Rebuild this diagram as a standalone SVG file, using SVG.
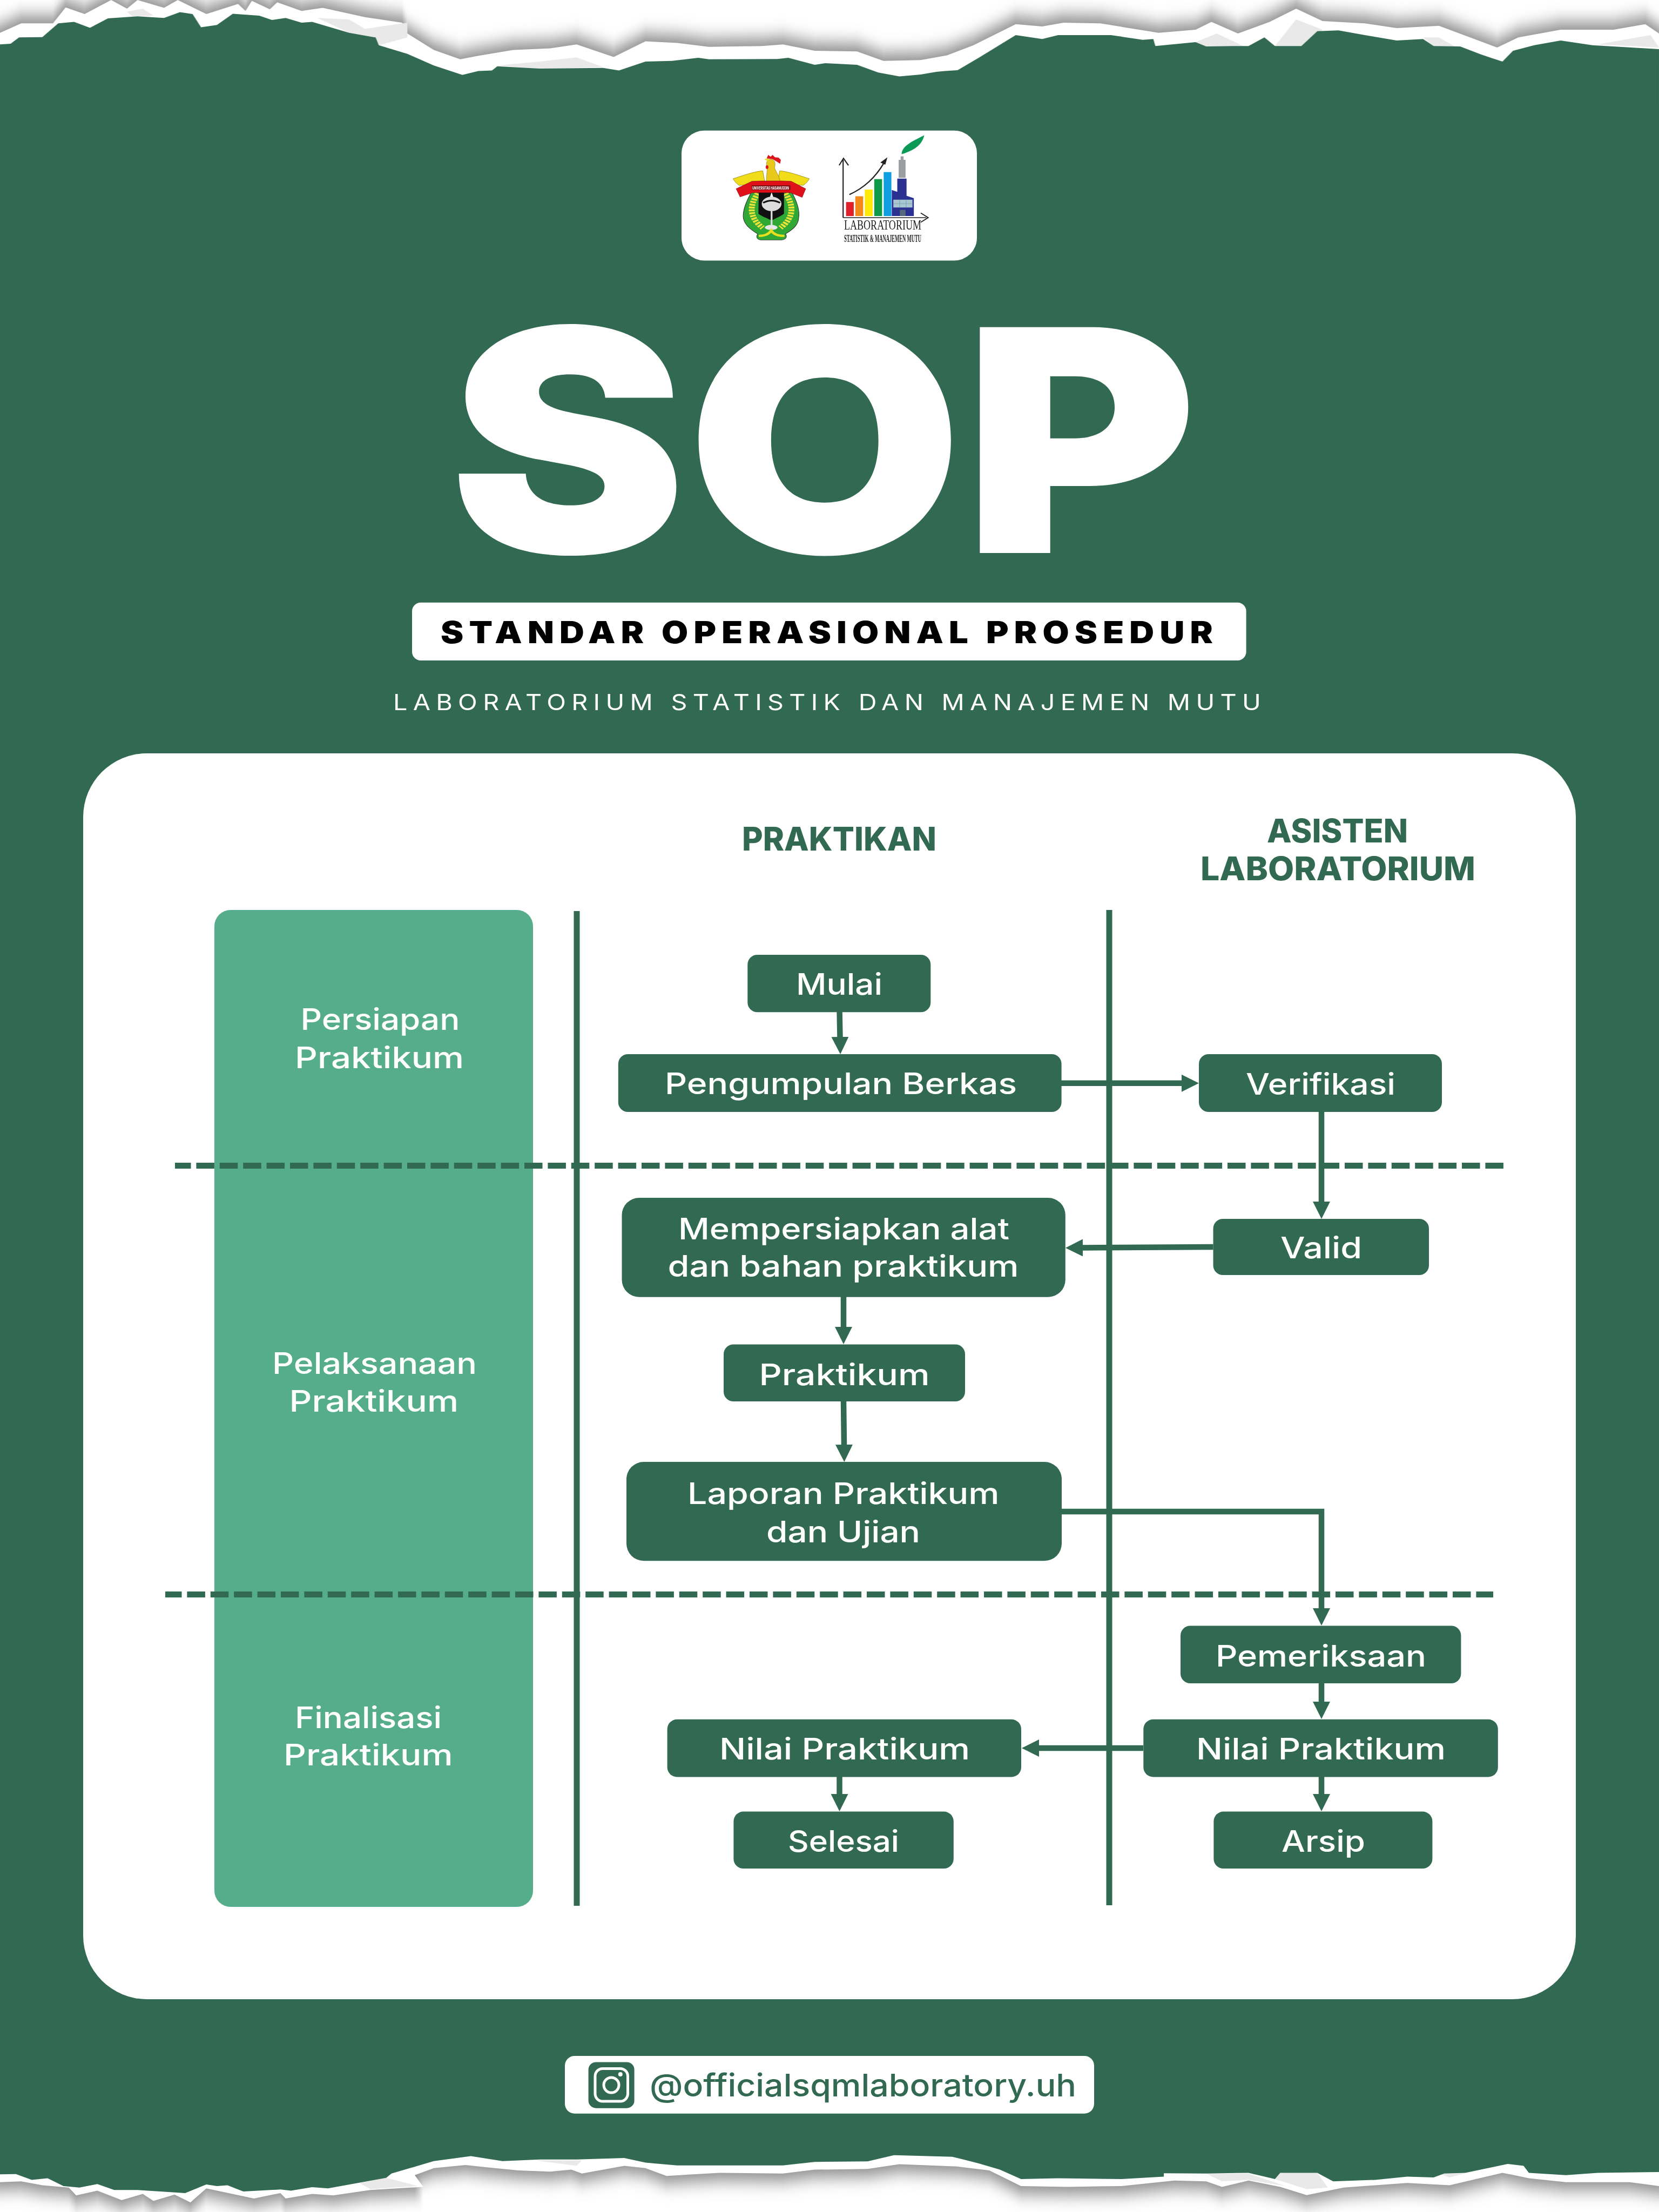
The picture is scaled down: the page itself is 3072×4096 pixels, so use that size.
<svg xmlns="http://www.w3.org/2000/svg" width="3072" height="4096" viewBox="0 0 3072 4096">
<style>
text{font-family:Inter,"Liberation Sans",sans-serif}
.n{fill:#326952}
.t{fill:#fff;font-size:55px;font-weight:500}
.h{fill:#326952;font-size:60px;font-weight:800}
.c{fill:none;stroke:#326952;stroke-width:10.5}
.a{marker-end:url(#ah)}
.lane{stroke:#326952;stroke-width:11;fill:none}
.dash{stroke-dasharray:33.5 9.9}
</style>
<defs>
<marker id="ah" viewBox="0 0 32 32" refX="1" refY="16" markerWidth="32" markerHeight="32" markerUnits="userSpaceOnUse" orient="auto"><path d="M0 0L32 16L0 32Z" fill="#326952"/></marker>
<filter id="vblur" filterUnits="userSpaceOnUse" x="0" y="-60" width="3072" height="4216"><feGaussianBlur stdDeviation="0 16"/></filter>
<polygon id="topW" points="0,210 20,150 50,150 62,48 80,90 105,0 120,55 130,0 155,50 168,0 195,90 225,25 232,70 238,5 255,60 262,15 285,70 305,50 345,110 380,145 385,215 410,320 435,380 450,360 485,320 520,310 545,285 580,365 610,265 640,275 670,300 720,295 740,285 770,325 810,330 835,390 870,385 895,355 920,290 960,155 985,170 1005,145 1040,150 1095,210 1130,190 1145,140 1170,215 1200,140 1225,55 1250,135 1290,150 1320,180 1360,165 1415,305 1435,240 1475,190 1525,190 1555,155 1568,215 1568,700 0,700"/>
<polygon id="botW" points="0,485 20,480 40,505 65,520 72,570 92,540 115,600 135,560 145,605 165,565 180,615 195,525 240,590 265,555 270,590 295,560 315,570 350,535 400,515 392,440 410,395 440,375 460,390 490,410 520,418 540,405 550,430 590,380 610,395 630,445 680,425 740,430 770,405 820,400 850,370 905,385 935,410 965,510 1010,515 1060,510 1110,475 1140,480 1155,515 1180,475 1210,515 1235,568 1270,520 1330,490 1370,505 1420,425 1445,460 1480,485 1540,485 1568,510 1568,0 0,0"/>
</defs>
<rect width="3072" height="4096" fill="#fff"/>
<g id="torn-edges">
<g filter="url(#vblur)" fill="#8a8a8a"><use href="#topW" transform="translate(0,-14) scale(1.9592,0.2889)"/><use href="#botW" transform="translate(0,3914.6) scale(1.9592,0.2889)"/></g>
<g transform="scale(1.9592,0.2889)">
<use href="#topW" fill="#fff"/>
<g fill="#e9e9e9"><polygon points="300,115 330,125 345,185 385,145 385,240 358,290 355,240 330,210"/><polygon points="470,420 510,395 545,368 570,430 510,440"/><polygon points="1130,270 1150,215 1175,295 1140,298"/><polygon points="1205,295 1225,125 1250,190 1232,295"/><polygon points="1345,240 1360,240 1375,298 1355,295"/><polygon points="1510,285 1560,225 1568,305"/><polygon points="120,75 135,55 145,100 125,105"/></g>
<polygon fill="#326952" points="0,285 10,280 18,240 40,238 55,150 70,140 85,178 102,118 130,105 155,115 170,78 182,90 190,175 205,160 220,88 245,100 257,128 270,115 285,145 295,140 330,210 355,240 358,290 385,345 410,420 437,480 452,455 465,452 470,425 510,440 570,435 585,452 610,395 635,390 660,370 670,380 735,378 745,370 770,415 780,405 810,415 830,465 850,490 870,478 885,460 893,455 905,450 925,370 960,225 985,250 1000,225 1050,225 1080,255 1090,250 1092,295 1130,270 1140,298 1165,295 1180,295 1195,240 1205,295 1230,295 1245,200 1265,195 1290,225 1320,260 1345,250 1355,295 1380,298 1400,350 1420,395 1430,325 1450,290 1475,260 1505,290 1568,315 1568,700 0,700"/>
</g>
<g transform="translate(0,3900.6) scale(1.9592,0.2889)">
<use href="#botW" fill="#fff"/>
<g fill="#e9e9e9"><polygon points="505,345 550,345 545,380"/><polygon points="1205,465 1210,425 1245,425 1255,520 1235,530"/><polygon points="1140,430 1180,430 1215,510 1180,470 1155,480"/><polygon points="340,490 365,457 395,510 350,530"/><polygon points="1360,430 1385,428 1370,455"/></g>
<polygon fill="#326952" points="0,435 15,433 30,470 45,460 60,510 75,520 92,497 108,535 130,535 175,555 195,500 205,510 215,505 230,545 265,532 275,540 295,517 310,525 365,457 370,430 410,350 445,318 475,350 510,340 545,340 590,330 610,360 640,378 740,378 770,355 820,352 845,312 900,322 925,365 945,405 965,465 1000,460 1060,465 1100,450 1100,428 1140,430 1180,425 1205,465 1210,425 1245,425 1260,480 1300,470 1330,450 1355,455 1365,430 1385,425 1425,368 1440,380 1445,425 1480,440 1510,425 1568,420 1568,0 0,0"/>
</g>
<rect x="0" y="195" width="3072" height="3715" fill="#326952"/>
</g>
<g id="logos">
<rect x="1262" y="241.8" width="547" height="240.7" rx="42" fill="#fff"/>
<g transform="translate(1248.2,234) scale(.3648,.2889)">
<path d="M400,405C370,470 345,540 352,590C360,640 400,670 425,690C415,705 420,725 440,728L545,728C570,725 575,705 565,690C590,670 630,640 632,590C640,540 620,470 590,405Z" fill="#2fa836" stroke="#333" stroke-width="3"/>
<path d="M425,430C385,500 375,580 450,650M565,430C605,500 615,580 540,650" fill="none" stroke="#e9e33a" stroke-width="30" stroke-dasharray="12 6"/>
<path d="M430,408L558,408L558,560C530,585 510,590 495,605C480,590 455,585 428,560Z" fill="#111"/>
<polygon points="495,420 506,465 484,465" fill="#fff"/>
<ellipse cx="495" cy="497" rx="50" ry="46" fill="#ddd"/>
<path d="M452,490Q495,462 538,490" fill="none" stroke="#111" stroke-width="10"/>
<path d="M495,535V640" stroke="#ddd" stroke-width="9"/>
<ellipse cx="493" cy="648" rx="32" ry="16" fill="#e8e8e8"/>
<path d="M430,702C460,702 480,692 493,668C505,692 530,702 560,702" fill="none" stroke="#eadf1e" stroke-width="14"/>
<path d="M300,335C340,320 400,290 450,285L462,365L330,378C315,365 305,350 300,335Z" fill="#f0dc18" stroke="#7a6a00" stroke-width="2"/>
<path d="M686,335C646,320 586,290 536,285L524,365L656,378C671,365 681,350 686,335Z" fill="#f0dc18" stroke="#7a6a00" stroke-width="2"/>
<path d="M470,370C465,330 475,290 472,255C465,235 470,215 490,210C515,215 515,240 510,265C520,300 540,330 540,370Z" fill="#e8c81a" stroke="#8a7400" stroke-width="2"/>
<polygon points="458,210 480,203 478,226" fill="#eadf1e"/>
<path d="M470,205L478,183L490,195L500,183L512,198L530,200L542,215L538,240L520,225L500,210Z" fill="#d9161c"/>
<ellipse cx="472" cy="261" rx="7" ry="12" fill="#d9161c"/>
<path d="M315,400L395,352L440,350L550,350L595,352L668,400L650,455L590,425L400,425L335,452Z" fill="#e0101a" stroke="#7a0c12" stroke-width="2"/>
<rect x="395" y="378" width="195" height="30" fill="#7a0c12"/>
<path d="M858,585V215M838,250L860,205L885,250M858,585H1280M1252,555L1290,585L1252,615" fill="none" stroke="#222" stroke-width="6"/>
<rect x="873" y="485" width="39" height="90" fill="#e0202a"/>
<rect x="920" y="448" width="40" height="127" fill="#f28a1a"/>
<rect x="968" y="405" width="40" height="170" fill="#ffe80a"/>
<rect x="1016" y="338" width="40" height="237" fill="#0f9a48"/>
<rect x="1064" y="293" width="39" height="282" fill="#0f9fe0"/>
<path d="M890,437Q1000,375 1065,235" fill="none" stroke="#222" stroke-width="7"/>
<polygon points="1083,198 1047,232 1072,246" fill="#222"/>
<polygon points="1105,575 1105,408 1133,420 1133,335 1180,335 1180,445 1217,460 1217,575" fill="#2a3191"/>
<rect x="1113" y="470" width="97" height="50" fill="#a9c7d0"/>
<path d="M1113,495H1210M1145,470V520M1178,470V520" stroke="#7fa6b5" stroke-width="3"/>
<rect x="1146" y="535" width="29" height="40" fill="#55697f"/>
<polygon points="1140,330 1140,215 1150,215 1150,192 1165,192 1165,215 1175,215 1175,330" fill="#9a9ea3"/>
<path d="M1155,178C1155,130 1200,100 1270,57C1260,110 1230,150 1155,178Z" fill="#0a9a55"/>
</g>
<text x="1393" y="351" font-size="8" font-weight="700" fill="#fff" textLength="68" lengthAdjust="spacingAndGlyphs">UNIVERSITAS HASANUDDIN</text>
<text x="1563" y="425" font-size="26" textLength="143" lengthAdjust="spacingAndGlyphs" fill="#222" style="font-family:'Liberation Serif',serif">LABORATORIUM</text>
<text x="1563" y="448" font-size="19" font-weight="700" textLength="143" lengthAdjust="spacingAndGlyphs" fill="#222" style="font-family:'Liberation Serif',serif">STATISTIK &amp; MANAJEMEN MUTU</text>
</g>
<g id="title">
<text x="831" y="1024" font-size="575" font-weight="900" fill="#fff" textLength="1386" lengthAdjust="spacingAndGlyphs">SOP</text>
<rect x="763" y="1115.8" width="1544.6" height="107.2" rx="16" fill="#fff"/>
<text x="816" y="1191" font-size="56" font-weight="900" letter-spacing="9" fill="#000" textLength="1440" lengthAdjust="spacingAndGlyphs">STANDAR OPERASIONAL PROSEDUR</text>
<text x="728" y="1314.6" font-size="41" font-weight="400" letter-spacing="9" fill="#fff" textLength="1617" lengthAdjust="spacingAndGlyphs">LABORATORIUM STATISTIK DAN MANAJEMEN MUTU</text>
</g>
<rect id="panel" x="154" y="1395" width="2764" height="2307" rx="118" fill="#fff"/>
<g id="phase-band">
<rect x="397" y="1685" width="590" height="1846" rx="30" fill="#56ad8b"/>
<g class="phase">
<text class="t" x="556.4" y="1907" textLength="295" lengthAdjust="spacingAndGlyphs">Persiapan</text>
<text class="t" x="546" y="1977.5" textLength="313" lengthAdjust="spacingAndGlyphs">Praktikum</text>
<text class="t" x="504" y="2544" textLength="379" lengthAdjust="spacingAndGlyphs">Pelaksanaan</text>
<text class="t" x="535.5" y="2614" textLength="313.5" lengthAdjust="spacingAndGlyphs">Praktikum</text>
<text class="t" x="546" y="3200" textLength="272" lengthAdjust="spacingAndGlyphs">Finalisasi</text>
<text class="t" x="525" y="3269" textLength="313.5" lengthAdjust="spacingAndGlyphs">Praktikum</text>
</g>
</g>
<g id="headers">
<text class="h" x="1374" y="1575" textLength="360" lengthAdjust="spacingAndGlyphs">PRAKTIKAN</text>
<text class="h" x="2346" y="1559.5" textLength="261" lengthAdjust="spacingAndGlyphs">ASISTEN</text>
<text class="h" x="2223" y="1630" textLength="509" lengthAdjust="spacingAndGlyphs">LABORATORIUM</text>
</g>
<g id="lanes">
<path class="lane" d="M1068 1687V3529M2054 1685V3528"/>
<path class="lane dash" style="stroke-dashoffset:4" d="M324 2158.5H2785"/>
<path class="lane dash" style="stroke-dashoffset:3" d="M306 2952.4H2765"/>
</g>
<g id="connectors">
<path class="c a" d="M1554.6 1874L1555.5 1921"/>
<path class="c a" d="M1965 2005.8H2189"/>
<path class="c a" d="M2447 2059V2226"/>
<path class="c a" d="M2246.5 2309L2004 2310.5"/>
<path class="c a" d="M1562 2401V2458"/>
<path class="c a" d="M1562 2595L1563 2676"/>
<path class="c a" d="M1965 2799H2447V2979"/>
<path class="c a" d="M2447 3117V3152"/>
<path class="c a" d="M2117 3237H1923"/>
<path class="c a" d="M2447 3290V3323"/>
<path class="c a" d="M1554.5 3290V3323"/>
</g>
<g id="node-mulai"><rect class="n" x="1384.3" y="1767.9" width="339" height="106.4" rx="18"/><text class="t" x="1474" y="1842" textLength="160" lengthAdjust="spacingAndGlyphs">Mulai</text></g>
<g id="node-pengumpulan"><rect class="n" x="1144.8" y="1952" width="820.8" height="107" rx="18"/><text class="t" x="1231" y="2026" textLength="652" lengthAdjust="spacingAndGlyphs">Pengumpulan Berkas</text></g>
<g id="node-verifikasi"><rect class="n" x="2220" y="1952" width="450" height="107" rx="18"/><text class="t" x="2307" y="2027" textLength="277" lengthAdjust="spacingAndGlyphs">Verifikasi</text></g>
<g id="node-valid"><rect class="n" x="2246.5" y="2257" width="399.5" height="104" rx="18"/><text class="t" x="2371" y="2330" textLength="151" lengthAdjust="spacingAndGlyphs">Valid</text></g>
<g id="node-mempersiapkan"><rect class="n" x="1151.5" y="2218" width="821.3" height="183.7" rx="32"/><text class="t" x="1256" y="2294.8" textLength="613" lengthAdjust="spacingAndGlyphs">Mempersiapkan alat</text><text class="t" x="1236.5" y="2364.4" textLength="650" lengthAdjust="spacingAndGlyphs">dan bahan praktikum</text></g>
<g id="node-praktikum"><rect class="n" x="1340" y="2489.5" width="447" height="105.5" rx="18"/><text class="t" x="1405.5" y="2565" textLength="316" lengthAdjust="spacingAndGlyphs">Praktikum</text></g>
<g id="node-laporan"><rect class="n" x="1160" y="2707" width="806" height="183.3" rx="32"/><text class="t" x="1273" y="2785" textLength="577.5" lengthAdjust="spacingAndGlyphs">Laporan Praktikum</text><text class="t" x="1419" y="2855.5" textLength="285" lengthAdjust="spacingAndGlyphs">dan Ujian</text></g>
<g id="node-pemeriksaan"><rect class="n" x="2186" y="3010.5" width="519.4" height="106.5" rx="18"/><text class="t" x="2251" y="3085.8" textLength="390" lengthAdjust="spacingAndGlyphs">Pemeriksaan</text></g>
<g id="node-nilai-asisten"><rect class="n" x="2117.3" y="3183.8" width="656.5" height="106.6" rx="18"/><text class="t" x="2215" y="3258" textLength="462" lengthAdjust="spacingAndGlyphs">Nilai Praktikum</text></g>
<g id="node-nilai-praktikan"><rect class="n" x="1235.6" y="3183.8" width="655.4" height="106.6" rx="18"/><text class="t" x="1332" y="3258" textLength="464" lengthAdjust="spacingAndGlyphs">Nilai Praktikum</text></g>
<g id="node-selesai"><rect class="n" x="1358.4" y="3354.6" width="407.4" height="105.4" rx="18"/><text class="t" x="1459" y="3428.6" textLength="206" lengthAdjust="spacingAndGlyphs">Selesai</text></g>
<g id="node-arsip"><rect class="n" x="2247.4" y="3354.6" width="405" height="105.4" rx="18"/><text class="t" x="2373" y="3428.6" textLength="155" lengthAdjust="spacingAndGlyphs">Arsip</text></g>
<g id="instagram">
<rect x="1046" y="3807" width="980" height="106.7" rx="18" fill="#fff"/>
<rect x="1089.6" y="3818.4" width="85" height="85.3" rx="14" fill="#326952"/>
<rect x="1102" y="3830.5" width="60.5" height="60.5" rx="14" fill="none" stroke="#fff" stroke-width="5"/>
<circle cx="1132" cy="3861" r="14" fill="none" stroke="#fff" stroke-width="5"/>
<circle cx="1148.8" cy="3841" r="4" fill="#fff"/>
<text x="1203" y="3882" font-size="58" font-weight="500" fill="#326952" textLength="790" lengthAdjust="spacingAndGlyphs">@officialsqmlaboratory.uh</text>
</g>
</svg>
